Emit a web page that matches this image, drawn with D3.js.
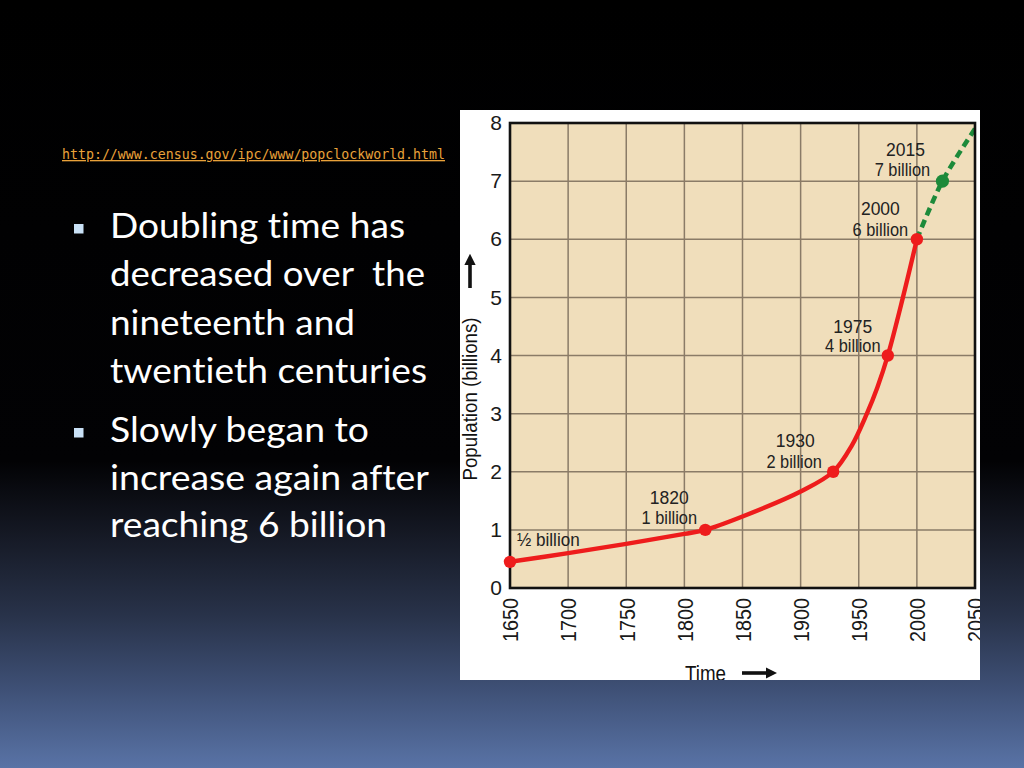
<!DOCTYPE html>
<html><head><meta charset="utf-8">
<script src="https://cdn.jsdelivr.net/npm/d3@7"></script>
<style>
html,body{margin:0;padding:0;background:#000;}
svg{display:block;}
</style></head>
<body>
<svg id="c" width="1024" height="768"></svg>
<script>
// ---- data ----
const urlText = "http://www.census.gov/ipc/www/popclockworld.html";
const bullets = [
  ["Doubling time has", "decreased over  the", "nineteenth and", "twentieth centuries"],
  ["Slowly began to", "increase again after", "reaching 6 billion"]
];
const xTicks = [1650, 1700, 1750, 1800, 1850, 1900, 1950, 2000, 2050];
const yTicks = [0, 1, 2, 3, 4, 5, 6, 7, 8];
const histYears = [1650, 1700, 1750, 1800, 1818, 1850, 1900, 1928, 1944, 1957, 1966, 1975, 1988, 2000];
const histPop   = [0.45, 0.60, 0.76, 0.93, 1.0, 1.23, 1.66, 2.0, 2.45, 3.0, 3.45, 4.0, 5.0, 6.0];
const projYears = [2000, 2022, 2050];
const projPop   = [6.0, 7.0, 7.9];
const markYears = [1650, 1818, 1928, 1975, 2000];
const markPop   = [0.45, 1.0, 2.0, 4.0, 6.0];
const projMarkYears = [2022];
const projMarkPop = [7.0];
const labelYears = [1650, 1818, 1928, 1975, 2000, 2022];
const labelPop   = [0.45, 1.0, 2.0, 4.0, 6.0, 7.0];
const labelTop   = ["", "1820", "1930", "1975", "2000", "2015"];
const labelBottom= ["½ billion", "1 billion", "2 billion", "4 billion", "6 billion", "7 billion"];

// ---- layout ----
const svg = d3.select("#c");
const W = 1024, H = 768;
const defs = svg.append("defs");
const grad = defs.append("linearGradient").attr("id","bg").attr("x1",0).attr("y1",0).attr("x2",0).attr("y2",1);
[[0,"#000000"],[0.6,"#020204"],[0.7,"#161a26"],[0.8,"#283249"],[0.9,"#3f5177"],[1,"#5973a6"]]
  .forEach(s=>grad.append("stop").attr("offset",s[0]).attr("stop-color",s[1]));
svg.append("rect").attr("width",W).attr("height",H).attr("fill","url(#bg)");

// URL
svg.append("text").attr("x",62).attr("y",159)
  .attr("font-family","'DejaVu Sans Mono', 'Liberation Mono', monospace")
  .attr("font-size",13.2).attr("fill","#eaa23a")
  .attr("text-decoration","underline")
  .attr("textLength",383).attr("lengthAdjust","spacingAndGlyphs")
  .text(urlText);

// bullets
const bulletTop = [238, 442];
const lineH = [48.3, 47.5];
const lineWidths = [[295,315,245,317],[259,319,277]];
bullets.forEach((lines,bi)=>{
  svg.append("rect").attr("x",74).attr("y",bulletTop[bi]-14).attr("width",9.5).attr("height",9.5).attr("fill","#c9e1f6");
  lines.forEach((ln,li)=>{
    svg.append("text").attr("x",110).attr("y",bulletTop[bi]+li*lineH[bi])
      .attr("font-family","Lato, 'Open Sans', sans-serif").attr("font-size",35)
      .style("white-space","pre").style("font-variant-ligatures","none")
      .attr("textLength",lineWidths[bi][li]).attr("lengthAdjust","spacingAndGlyphs")
      .attr("fill","#ffffff").text(ln);
  });
});

// chart image
const img = {x0:460, y0:110, x1:980, y1:680};
defs.append("clipPath").attr("id","imgclip").append("rect")
  .attr("x",img.x0).attr("y",img.y0).attr("width",img.x1-img.x0).attr("height",img.y1-img.y0);
const g = svg.append("g").attr("clip-path","url(#imgclip)");
g.append("rect").attr("x",img.x0).attr("y",img.y0).attr("width",img.x1-img.x0).attr("height",img.y1-img.y0).attr("fill","#ffffff");

const x = d3.scaleLinear().domain([1650,2050]).range([510,975]);
const y = d3.scaleLinear().domain([0,8]).range([588,123]);
const chartFont = "'Liberation Sans', Arial, sans-serif";

g.append("rect").attr("x",x(1650)).attr("y",y(8)).attr("width",x(2050)-x(1650)).attr("height",y(0)-y(8)).attr("fill","#f0debb");

// grid
g.append("g").selectAll("line").data(xTicks.slice(1,-1)).join("line")
  .attr("x1",d=>x(d)).attr("x2",d=>x(d)).attr("y1",y(8)).attr("y2",y(0))
  .attr("stroke","#8a7b67").attr("stroke-width",1.5);
g.append("g").selectAll("line").data(yTicks.slice(1,-1)).join("line")
  .attr("y1",d=>y(d)).attr("y2",d=>y(d)).attr("x1",x(1650)).attr("x2",x(2050))
  .attr("stroke","#8a7b67").attr("stroke-width",1.5);

// lines
defs.append("clipPath").attr("id","plotclip").append("rect")
  .attr("x",x(1650)).attr("y",y(8)).attr("width",x(2050)-x(1650)).attr("height",y(0)-y(8));
const pg = g.append("g").attr("clip-path","url(#plotclip)");
const line = d3.line().x(d=>x(d[0])).y(d=>y(d[1])).curve(d3.curveCatmullRom.alpha(0.5));
pg.append("path").datum(projYears.map((v,i)=>[v,projPop[i]])).attr("d",line)
  .attr("fill","none").attr("stroke","#1d8a3a").attr("stroke-width",4.6).attr("stroke-dasharray","8,5");
pg.append("path").datum(histYears.map((v,i)=>[v,histPop[i]])).attr("d",line)
  .attr("fill","none").attr("stroke","#ee1c1c").attr("stroke-width",4.4).attr("stroke-linejoin","round");

// border
g.append("rect").attr("x",x(1650)).attr("y",y(8)).attr("width",x(2050)-x(1650)).attr("height",y(0)-y(8))
  .attr("fill","none").attr("stroke","#111").attr("stroke-width",2.6);

// markers
g.append("g").selectAll("circle").data(markYears.map((v,i)=>[v,markPop[i]])).join("circle")
  .attr("cx",d=>x(d[0])).attr("cy",d=>y(d[1])).attr("r",6.2).attr("fill","#ee1c1c");
g.append("g").selectAll("circle").data(projMarkYears.map((v,i)=>[v,projMarkPop[i]])).join("circle")
  .attr("cx",d=>x(d[0])).attr("cy",d=>y(d[1])).attr("r",6.6).attr("fill","#1d8a3a");

// annotation labels (offsets from their points: dxTop, dyTop, dxBottom, dyBottom)
const labelOffsets = [[7,0,7,-15.7],[-36,-26,-36,-6.3],[-38,-25,-39,-3.8],[-35,-23,-35,-3.2],[-36.5,-24,-36.5,-3.6],[-37,-25,-40,-5.2]];
labelYears.forEach((yr,i)=>{
  const px = x(yr), py = y(labelPop[i]);
  const off = labelOffsets[i];
  const anchor = i===0 ? "start" : "middle";
  if (labelTop[i]) g.append("text").attr("x",px+off[0]).attr("y",py+off[1])
    .attr("text-anchor",anchor).attr("font-family",chartFont).attr("font-size",17.5).attr("fill","#222").text(labelTop[i]);
  const t = g.append("text").attr("x",px+off[2]).attr("y",py+off[3])
    .attr("text-anchor",anchor).attr("font-family",chartFont).attr("font-size",18).attr("fill","#222").text(labelBottom[i]);
  const n = t.node().getComputedTextLength();
  t.attr("textLength", n*(i===0?0.95:0.91)).attr("lengthAdjust","spacingAndGlyphs");
});

// axes
const ya = g.append("g").attr("transform",`translate(${x(1650)},0)`)
  .call(d3.axisLeft(y).tickValues(yTicks).tickSize(0).tickPadding(8));
ya.select(".domain").remove();
ya.selectAll("text").attr("font-family",chartFont).attr("font-size",21).attr("fill","#1a1a1a");

const xa = g.append("g").attr("transform",`translate(0,${y(0)})`)
  .call(d3.axisBottom(x).tickValues(xTicks).tickSize(0).tickFormat(d3.format("d")));
xa.select(".domain").remove();
xa.selectAll("text").attr("transform","rotate(-90)").attr("x",-10).attr("y",0).attr("dy","0.36em")
  .attr("text-anchor","end").attr("font-family",chartFont).attr("font-size",21.5).attr("fill","#1a1a1a")
  .attr("textLength",44).attr("lengthAdjust","spacingAndGlyphs");

// axis titles
g.append("text").attr("transform","translate(477,399) rotate(-90)").attr("text-anchor","middle")
  .attr("font-family",chartFont).attr("font-size",21).attr("fill","#111")
  .attr("textLength",163).attr("lengthAdjust","spacingAndGlyphs").text("Population (billions)");
defs.append("marker").attr("id","ah").attr("viewBox","0 0 10 10").attr("refX",2).attr("refY",5)
  .attr("markerWidth",3.2).attr("markerHeight",3.2).attr("orient","auto")
  .append("path").attr("d","M0,0 L10,5 L0,10 z").attr("fill","#111");
g.append("line").attr("x1",470).attr("y1",288).attr("x2",470).attr("y2",263)
  .attr("stroke","#111").attr("stroke-width",3.6).attr("marker-end","url(#ah)");

g.append("text").attr("x",685).attr("y",681).attr("font-family",chartFont).attr("font-size",22).attr("fill","#111")
  .attr("textLength",41).attr("lengthAdjust","spacingAndGlyphs").text("Time");
g.append("line").attr("x1",742).attr("y1",673).attr("x2",768).attr("y2",673)
  .attr("stroke","#111").attr("stroke-width",3.6).attr("marker-end","url(#ah)");
</script>
</body></html>
